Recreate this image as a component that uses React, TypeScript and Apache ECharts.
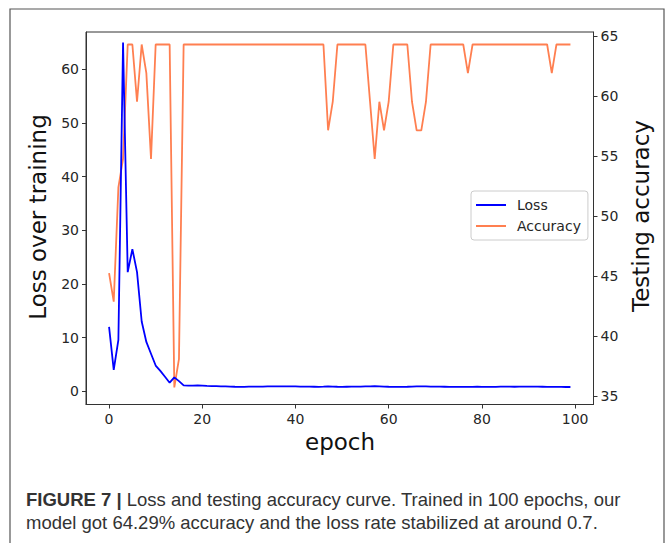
import React, { useEffect, useRef } from "react";
import * as echarts from "echarts";

// Loss per epoch
const lossValues: number[] = [
  12.0, 4.0, 9.6, 65.0, 22.2, 26.5, 22.2, 13.0, 9.2, 7.0,
  4.8, 3.8, 2.7, 1.6, 2.6, 1.9, 1.1, 1.05, 1.05, 1.08,
  1.05, 1.0, 0.98, 0.95, 0.92, 0.9, 0.88, 0.85, 0.83, 0.84,
  0.86, 0.88, 0.87, 0.88, 0.9, 0.91, 0.92, 0.93, 0.92, 0.91,
  0.9, 0.88, 0.87, 0.86, 0.85, 0.84, 0.86, 0.89, 0.87, 0.85,
  0.84, 0.85, 0.86, 0.87, 0.88, 0.9, 0.92, 0.94, 0.92, 0.88,
  0.85, 0.83, 0.82, 0.83, 0.85, 0.88, 0.9, 0.91, 0.9, 0.88,
  0.87, 0.86, 0.85, 0.84, 0.83, 0.82, 0.82, 0.83, 0.84, 0.85,
  0.84, 0.83, 0.83, 0.84, 0.86, 0.87, 0.86, 0.85, 0.86, 0.88,
  0.88, 0.87, 0.86, 0.85, 0.84, 0.83, 0.82, 0.81, 0.8, 0.8,
];

// Testing accuracy per epoch
const accuracyValues: number[] = [
  45.24, 42.86, 52.38, 54.76, 64.29, 64.29, 59.52, 64.29, 61.9, 54.76,
  64.29, 64.29, 64.29, 64.29, 35.71, 38.1, 64.29, 64.29, 64.29, 64.29,
  64.29, 64.29, 64.29, 64.29, 64.29, 64.29, 64.29, 64.29, 64.29, 64.29,
  64.29, 64.29, 64.29, 64.29, 64.29, 64.29, 64.29, 64.29, 64.29, 64.29,
  64.29, 64.29, 64.29, 64.29, 64.29, 64.29, 64.29, 57.14, 59.52, 64.29,
  64.29, 64.29, 64.29, 64.29, 64.29, 64.29, 59.52, 54.76, 59.52, 57.14,
  59.52, 64.29, 64.29, 64.29, 64.29, 59.52, 57.14, 57.14, 59.52, 64.29,
  64.29, 64.29, 64.29, 64.29, 64.29, 64.29, 64.29, 61.9, 64.29, 64.29,
  64.29, 64.29, 64.29, 64.29, 64.29, 64.29, 64.29, 64.29, 64.29, 64.29,
  64.29, 64.29, 64.29, 64.29, 64.29, 61.9, 64.29, 64.29, 64.29, 64.29,
];

const xTicks: number[] = [0, 20, 40, 60, 80, 100];
const lossTicks: number[] = [0, 10, 20, 30, 40, 50, 60];
const accTicks: number[] = [35, 40, 45, 50, 55, 60, 65];

const seriesNames = ["Loss", "Accuracy"];
const captionBold = "FIGURE 7 |";
const captionLine1 = " Loss and testing accuracy curve. Trained in 100 epochs, our";
const captionLine2 = "model got 64.29% accuracy and the loss rate stabilized at around 0.7.";

const FONT = "DejaVu Sans";
const TICK_COLOR = "#262626";
const TICK_SIZE = 14;
const NAME_SIZE = 23;

export default function App() {
  const ref = useRef<HTMLDivElement>(null);

  useEffect(() => {
    if (!ref.current) return;
    const chart = echarts.init(ref.current, null, { renderer: "svg" });

    const lossData = lossValues.map((v, i) => [i, v]);
    const accData = accuracyValues.map((v, i) => [i, v]);

    const axisCommon = {
      axisLine: { show: true, onZero: false, lineStyle: { color: "#333", width: 1 } },
      splitLine: { show: false },
    };

    chart.setOption({
      animation: false,
      backgroundColor: "#ffffff",
      grid: {
        left: 86,
        right: 74.5,
        top: 32,
        bottom: 138.5,
        show: true,
        borderColor: "#333",
        borderWidth: 1,
        backgroundColor: "transparent",
      },
      legend: {
        data: seriesNames,
        orient: "vertical",
        left: 471,
        top: 191,
        icon: "rect",
        itemWidth: 30,
        itemHeight: 2,
        itemGap: 5,
        padding: [6, 7, 6, 5],
        backgroundColor: "rgba(255,255,255,0.85)",
        borderColor: "#cccccc",
        borderWidth: 1,
        borderRadius: 3,
        textStyle: {
          fontFamily: FONT,
          fontSize: 14,
          color: TICK_COLOR,
          lineHeight: 16,
          padding: [0, 0, 0, 6],
        },
      },
      xAxis: {
        type: "value",
        min: -4.95,
        max: 103.95,
        ...axisCommon,
        axisTick: {
          show: true,
          inside: false,
          length: 4,
          customValues: xTicks,
          lineStyle: { color: "#333" },
        },
        axisLabel: {
          customValues: xTicks,
          fontFamily: FONT,
          fontSize: TICK_SIZE,
          color: TICK_COLOR,
          margin: 7,
        },
      },
      yAxis: [
        {
          type: "value",
          position: "left",
          min: -2.46,
          max: 66.95,
          ...axisCommon,
          axisTick: {
            show: true,
            length: 4,
            customValues: lossTicks,
            lineStyle: { color: "#333" },
          },
          axisLabel: {
            customValues: lossTicks,
            fontFamily: FONT,
            fontSize: TICK_SIZE,
            color: TICK_COLOR,
            margin: 7,
          },
        },
        {
          type: "value",
          position: "right",
          min: 34.29,
          max: 65.33,
          ...axisCommon,
          axisTick: {
            show: true,
            length: 4,
            customValues: accTicks,
            lineStyle: { color: "#333" },
          },
          axisLabel: {
            customValues: accTicks,
            fontFamily: FONT,
            fontSize: TICK_SIZE,
            color: TICK_COLOR,
            margin: 7,
          },
        },
      ],
      series: [
        {
          name: seriesNames[0],
          type: "line",
          yAxisIndex: 0,
          data: lossData,
          showSymbol: false,
          symbol: "none",
          lineStyle: { color: "#0000ff", width: 1.8 },
          itemStyle: { color: "#0000ff" },
          z: 3,
        },
        {
          name: seriesNames[1],
          type: "line",
          yAxisIndex: 1,
          data: accData,
          showSymbol: false,
          symbol: "none",
          lineStyle: { color: "#ff7f50", width: 1.8 },
          itemStyle: { color: "#ff7f50" },
          z: 2,
        },
      ],
      graphic: [
        {
          type: "rect",
          shape: { x: 10, y: 9, width: 654, height: 560 },
          style: { fill: "none", stroke: "#555555", lineWidth: 1.2 },
          silent: true,
        },
        {
          type: "text",
          x: 38,
          y: 217,
          rotation: Math.PI / 2,
          style: {
            text: "Loss over training",
            fontFamily: FONT,
            fontSize: NAME_SIZE,
            fill: "#111",
            align: "center",
            verticalAlign: "middle",
          },
        },
        {
          type: "text",
          x: 641,
          y: 216,
          rotation: Math.PI / 2,
          style: {
            text: "Testing accuracy",
            fontFamily: FONT,
            fontSize: NAME_SIZE,
            fill: "#111",
            align: "center",
            verticalAlign: "middle",
          },
        },
        {
          type: "text",
          x: 340,
          y: 442,
          style: {
            text: "epoch",
            fontFamily: FONT,
            fontSize: NAME_SIZE,
            fill: "#111",
            align: "center",
            verticalAlign: "middle",
          },
        },
        {
          type: "text",
          x: 26,
          y: 488,
          style: {
            text: "{b|" + captionBold + "}" + captionLine1 + "\n" + captionLine2,
            fontFamily: "Liberation Sans",
            fontSize: 18.5,
            lineHeight: 23,
            fill: "#333333",
            rich: {
              b: {
                fontFamily: "Liberation Sans",
                fontWeight: "bold",
                fontSize: 18.5,
                lineHeight: 23,
                fill: "#333333",
              },
            },
          },
        },
      ],
    });

    return () => chart.dispose();
  }, []);

  return (
    <div
      ref={ref}
      style={{ position: "fixed", left: 0, top: 0, width: 668, height: 543 }}
    />
  );
}
